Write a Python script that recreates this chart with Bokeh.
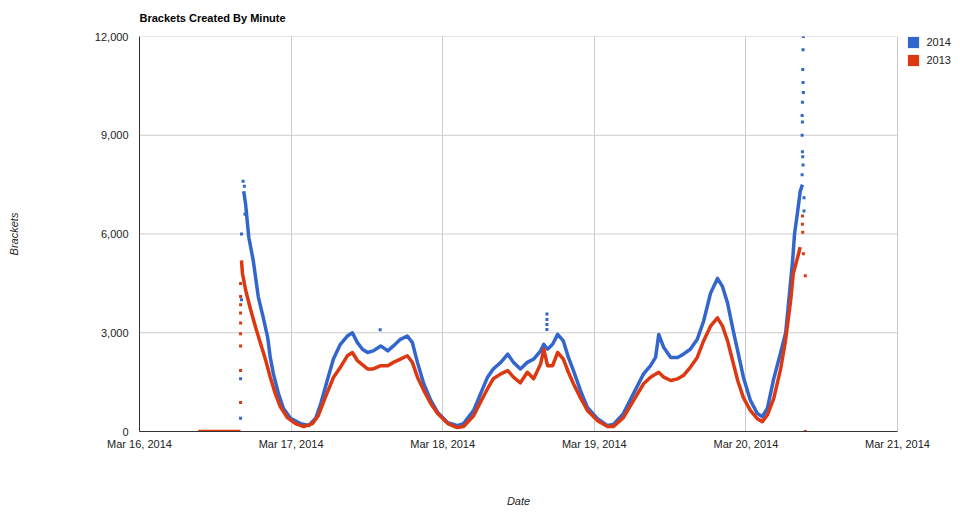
import pandas as pd
from bokeh.plotting import figure
from bokeh.models import (ColumnDataSource, Range1d, FixedTicker, NumeralTickFormatter,
                          DatetimeTickFormatter, Legend, LegendItem)
from bokeh.embed import file_html
from bokeh.resources import INLINE

# ---------------- data ----------------
title_text = "Brackets Created By Minute"
x_title = "Date"
y_title = "Brackets"
series_names = ["2014", "2013"]
series_colors = ["#3366cc", "#dc3912"]
y_ticks = [0, 3000, 6000, 9000, 12000]
x_tick_days = ["2014-03-16", "2014-03-17", "2014-03-18", "2014-03-19", "2014-03-20", "2014-03-21"]
origin = "2014-03-16 00:00"

# hours after Mar 16 00:00 and brackets per minute
hours_2014 = [16.5, 16.8, 17.3, 18.0, 18.8, 19.6, 20.3, 20.7, 21.2, 22.0, 22.8, 23.9, 25.5, 26.8,
              27.9, 28.7, 29.8, 30.7, 31.8, 32.9, 33.7, 34.5, 35.3, 36.1, 37.0, 38.2, 39.3, 40.2,
              41.3, 42.4, 43.2, 44.0, 45.0, 46.1, 47.2, 48.8, 50.3, 51.3, 52.9, 54.0, 55.1, 56.0,
              57.2, 58.3, 59.2, 60.3, 61.4, 62.4, 63.5, 64.0, 64.6, 65.4, 66.2, 67.1, 67.9, 68.7,
              69.8, 70.9, 72.5, 74.1, 75.0, 76.6, 78.2, 79.8, 80.9, 81.7, 82.2, 83.0, 84.1, 85.2,
              86.1, 87.2, 88.3, 89.3, 90.4, 91.5, 92.3, 93.1, 93.9, 94.7, 95.6, 96.7, 97.8, 98.6,
              99.4, 100.4, 101.5, 102.3, 102.9, 103.4, 103.7, 104.2, 104.6, 104.95]
brackets_2014 = [7300, 6900, 5900, 5200, 4100, 3450, 2850, 2250, 1750, 1150, 700, 400, 240, 180,
                 400, 850, 1600, 2200, 2650, 2900, 3000, 2700, 2500, 2400, 2450, 2600, 2450, 2600,
                 2800, 2900, 2700, 2100, 1450, 950, 580, 270, 180, 240, 640, 1150, 1650, 1900,
                 2100, 2350, 2100, 1900, 2100, 2200, 2450, 2650, 2500, 2650, 2950, 2750, 2250, 1850,
                 1250, 730, 390, 180, 210, 545, 1150, 1750, 2000, 2250, 2950, 2550, 2250, 2250,
                 2350, 2500, 2800, 3350, 4200, 4650, 4400, 3900, 3150, 2450, 1650, 950, 550, 450,
                 700, 1600, 2400, 3000, 4200, 5200, 6000, 6700, 7300, 7500]

# scattered single minutes of 2014 (launch burst, outliers, final spike)
hours_2014_sparse = [16.0, 16.0, 16.15, 16.15, 16.4, 16.6, 16.7, 38.1, 64.5, 64.5, 64.5, 64.5,
                     105.1, 105.05, 105.0, 105.05, 105.1, 104.95, 104.9, 104.95, 104.9,
                     104.95, 105.0, 105.05, 104.9, 105.2, 105.2]
brackets_2014_sparse = [400, 1600, 4000, 6000, 7600, 7450, 6600, 3090, 3570, 3400, 3250, 3100,
                        12000, 11600, 11000, 10600, 10300, 10000, 9600, 9400, 9000,
                        8500, 8350, 8100, 7800, 7100, 6700]

hours_2013 = [16.15, 16.3, 16.8, 17.6, 18.4, 19.2, 20.0, 20.7, 21.5, 22.3, 23.4, 24.7, 26.0,
              27.4, 28.3, 29.4, 30.7, 31.8, 32.9, 33.7, 34.5, 36.1, 37.0, 38.2, 39.3, 40.2,
              41.3, 42.4, 43.2, 44.0, 45.0, 46.1, 47.2, 48.8, 50.3, 51.3, 52.9, 54.0, 55.1,
              56.0, 57.2, 58.3, 59.2, 60.3, 61.4, 62.4, 63.5, 64.0, 64.6, 65.4, 66.2, 67.1,
              67.9, 68.7, 69.8, 70.9, 72.5, 74.1, 75.0, 76.6, 78.2, 79.8, 80.9, 82.2, 83.0,
              84.1, 85.2, 86.1, 87.2, 88.3, 89.3, 90.4, 91.5, 92.3, 93.1, 93.9, 94.7, 95.6,
              96.7, 97.8, 98.6, 99.4, 100.4, 101.5, 102.3, 103.1, 103.5, 104.2, 104.6]
brackets_2013 = [5200, 4800, 4300, 3700, 3150, 2650, 2150, 1650, 1150, 750, 420, 240, 150,
                 240, 480, 1030, 1640, 1950, 2300, 2400, 2150, 1900, 1900, 2000, 2000, 2100,
                 2200, 2300, 2100, 1650, 1250, 850, 545, 240, 120, 150, 480, 900, 1300,
                 1600, 1750, 1850, 1650, 1480, 1800, 1600, 2050, 2500, 2000, 2000, 2400, 2200,
                 1800, 1450, 1030, 640, 330, 150, 150, 420, 940, 1450, 1650, 1800, 1650,
                 1550, 1600, 1700, 1950, 2250, 2750, 3200, 3450, 3200, 2750, 2150, 1550, 1030,
                 640, 390, 300, 500, 1000, 1900, 2800, 4000, 4800, 5300, 5600]

# 2013 minutes with zero brackets before launch
hours_2013_zero = [9.3, 16.0]
brackets_2013_zero = [0, 0]

hours_2013_sparse = [16.0, 16.0, 16.0, 16.0, 16.0, 16.0, 16.0, 16.0, 16.0,
                     104.95, 104.95, 105.0, 105.1, 105.4, 105.4]
brackets_2013_sparse = [880, 1850, 2600, 2970, 3300, 3600, 3850, 4100, 4500,
                        6550, 6300, 6050, 5400, 4730, 0]

# ---------------- layout ----------------
t0 = pd.Timestamp(origin)


def to_dt(hours):
    return [t0 + pd.Timedelta(hours=h) for h in hours]


FONT = "Liberation Sans"
W, H = 952, 510
LEFT, TOP, BOTTOM = 139, 35, 79
AXIS_W = 758                      # width of the dated axis, px
day0 = pd.Timestamp(x_tick_days[0])
day_last = pd.Timestamp(x_tick_days[-1])
n_days = (day_last - day0) / pd.Timedelta(days=1)
px_per_day = AXIS_W / n_days
EXTRA = W - LEFT - AXIS_W         # frame room right of the last day, for the key
x_end = day_last + pd.Timedelta(days=EXTRA / px_per_day)

p = figure(width=W, height=H,
           x_axis_type="datetime",
           x_range=Range1d(day0, x_end),
           y_range=Range1d(y_ticks[0], y_ticks[-1]),
           output_backend="svg", toolbar_location=None,
           min_border_left=LEFT, min_border_right=0, min_border_top=TOP,
           min_border_bottom=BOTTOM,
           background_fill_color="white", border_fill_color="white")
p.outline_line_color = None

p.title.text = title_text
p.title.text_font = FONT
p.title.text_font_size = "11px"
p.title.text_font_style = "bold"
p.title.text_color = "#000000"
p.title.align = "left"
p.title.vertical_align = "top"
p.title.standoff = 22

# axes
xa = p.xaxis[0]
xa.ticker = FixedTicker(ticks=[pd.Timestamp(d).timestamp() * 1000 for d in x_tick_days])
fmt = "%b %d, %Y"
xa.formatter = DatetimeTickFormatter(days=fmt, months=fmt, hours=fmt, years=fmt,
                                     minutes=fmt, hourmin=fmt)
# the label is centred on the whole frame; trailing no-break spaces centre it on the dated span
xa.axis_label = x_title + "\u00a0" * 18
xa.bounds = (day0, day_last)
ya = p.yaxis[0]
ya.ticker = FixedTicker(ticks=y_ticks)
ya.formatter = NumeralTickFormatter(format="0,0")
ya.axis_label = y_title

for ax in (xa, ya):
    ax.major_tick_line_color = None
    ax.minor_tick_line_color = None
    ax.major_tick_out = 0
    ax.major_tick_in = 0
    ax.major_label_text_font = FONT
    ax.major_label_text_font_size = "11px"
    ax.major_label_text_color = "#222222"
    ax.axis_label_text_font = FONT
    ax.axis_label_text_font_size = "11px"
    ax.axis_label_text_font_style = "italic"
    ax.axis_label_text_color = "#222222"
    ax.axis_line_color = "#333333"
    ax.axis_line_width = 1
xa.major_label_standoff = 6
xa.axis_label_standoff = 42
ya.major_label_standoff = 11
ya.axis_label_standoff = 72

p.xgrid.ticker = xa.ticker
p.xgrid.grid_line_color = "#cccccc"
p.ygrid.grid_line_color = None
# horizontal grid lines limited to the dated span
n = len(y_ticks)
p.segment(x0=[day0] * n, x1=[day_last] * n, y0=y_ticks, y1=y_ticks,
          line_color="#cccccc", line_width=1)

# data
c14, c13 = series_colors
src14 = ColumnDataSource(dict(t=to_dt(hours_2014), v=brackets_2014))
src14s = ColumnDataSource(dict(t=to_dt(hours_2014_sparse), v=brackets_2014_sparse))
src13 = ColumnDataSource(dict(t=to_dt(hours_2013), v=brackets_2013))
src13z = ColumnDataSource(dict(t=to_dt(hours_2013_zero), v=brackets_2013_zero))
src13s = ColumnDataSource(dict(t=to_dt(hours_2013_sparse), v=brackets_2013_sparse))

p.line("t", "v", source=src14, line_color=c14, line_width=3.5, line_join="round")
s14 = p.scatter("t", "v", source=src14s, size=3, marker="square",
                fill_color=c14, line_color=None)
p.line("t", "v", source=src13z, line_color=c13, line_width=3.5)
p.line("t", "v", source=src13, line_color=c13, line_width=3.5, line_join="round")
s13 = p.scatter("t", "v", source=src13s, size=3, marker="square",
                fill_color=c13, line_color=None)

# key: one legend per entry; a 28px glyph box gives an 11px square swatch
GB = 28
SQ_LEFT = 907
for i, (name, rend) in enumerate(zip(series_names, [s14, s13])):
    sq_cy = 41.5 + 18 * i                      # swatch centre, px from top
    top_of_box = sq_cy - GB / 2
    lg = Legend(items=[LegendItem(label=name, renderers=[rend])],
                location=(SQ_LEFT + 5.5 - GB / 2 - LEFT, H - BOTTOM - (top_of_box + GB)),
                orientation="vertical",
                glyph_width=GB, glyph_height=GB, label_height=GB, label_width=24,
                label_standoff=0, padding=0, margin=0,
                label_text_font=FONT, label_text_font_size="11px",
                label_text_color="#222222",
                border_line_color=None, background_fill_alpha=0)
    p.add_layout(lg, "center")

open("out.html", "w").write(file_html(p, INLINE))
